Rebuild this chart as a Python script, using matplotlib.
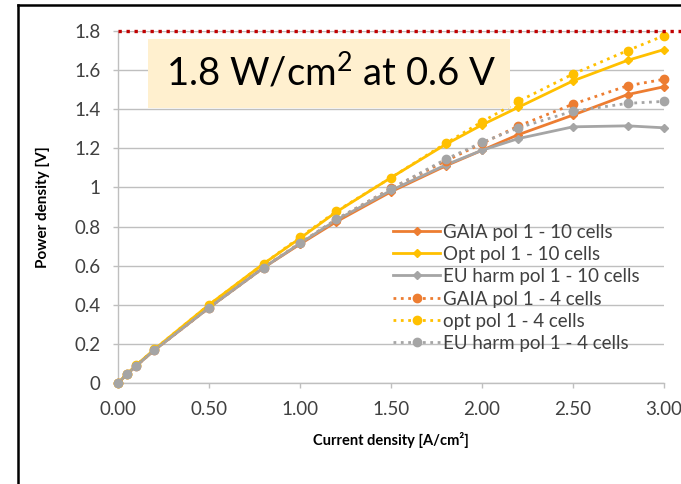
import numpy as np
import matplotlib
matplotlib.use("Agg")
import matplotlib.pyplot as plt
from matplotlib.lines import Line2D
from matplotlib.patches import Rectangle

plt.rcParams['font.family'] = ['Lato', 'DejaVu Sans']
plt.rcParams['mathtext.fontset'] = 'custom'
plt.rcParams['mathtext.rm'] = 'Lato'

# current density [A/cm2]
current = [0, 0.05, 0.1, 0.2, 0.5, 0.8, 1.0, 1.2, 1.5, 1.8, 2.0, 2.2, 2.5, 2.8, 3.0]

# power density per polarisation curve
gaia_10 = [0, 0.045, 0.088, 0.168, 0.385, 0.59, 0.71, 0.825, 0.978, 1.11, 1.19, 1.27, 1.37, 1.475, 1.515]
opt_10 = [0, 0.047, 0.091, 0.172, 0.40, 0.61, 0.74, 0.875, 1.05, 1.22, 1.32, 1.41, 1.545, 1.65, 1.705]
eu_10 = [0, 0.045, 0.088, 0.168, 0.385, 0.59, 0.714, 0.833, 0.985, 1.115, 1.19, 1.25, 1.31, 1.315, 1.305]
gaia_4 = [0, 0.045, 0.088, 0.168, 0.385, 0.59, 0.715, 0.835, 0.995, 1.135, 1.225, 1.314, 1.426, 1.52, 1.553]
opt_4 = [0, 0.047, 0.091, 0.172, 0.40, 0.61, 0.745, 0.878, 1.05, 1.225, 1.336, 1.44, 1.58, 1.70, 1.776]
eu_4 = [0, 0.045, 0.088, 0.168, 0.385, 0.59, 0.715, 0.838, 0.993, 1.144, 1.23, 1.305, 1.39, 1.43, 1.44]

labels = ['GAIA pol 1 - 10 cells', 'Opt pol 1 - 10 cells', 'EU harm pol 1 - 10 cells',
          'GAIA pol 1 - 4 cells', 'opt pol 1 - 4 cells', 'EU harm pol 1 - 4 cells']
target = 1.8
x_ticks = [0, 0.5, 1.0, 1.5, 2.0, 2.5, 3.0]
y_ticks = [0, 0.2, 0.4, 0.6, 0.8, 1.0, 1.2, 1.4, 1.6, 1.8]
y_ticklabels = ['0', '0.2', '0.4', '0.6', '0.8', '1', '1.2', '1.4', '1.6', '1.8']

ORANGE = '#ED7D31'
YELLOW = '#FFC000'
GREY = '#A5A5A5'
GRID = '#BFBFBF'
TXT = '#404040'

W, H = 681, 484
fig = plt.figure(figsize=(W / 100, H / 100), dpi=100)
ax = fig.add_axes([118 / W, 1 - 383 / H, (664 - 118) / W, (383 - 31) / H])

series = [
    (gaia_10, ORANGE, '-', 'D', 4.5),
    (opt_10, YELLOW, '-', 'D', 4.5),
    (eu_10, GREY, '-', 'D', 4.5),
    (gaia_4, ORANGE, ':', 'o', 6),
    (opt_4, YELLOW, ':', 'o', 6),
    (eu_4, GREY, ':', 'o', 6),
]
for (vals, col, ls, mk, ms), lab in zip(series, labels):
    ax.plot(current, vals, color=col, ls=ls, lw=2.0, marker=mk, ms=ms,
            label=lab, clip_on=False, zorder=3)

# target line at 1.8 W/cm2
ax.plot([0, 3.12], [target, target], color='#C00000', lw=2.4,
        dashes=(1, 1.4), clip_on=False, zorder=4)

ax.set_xlim(0, 3)
ax.set_ylim(0, 1.8)
ax.set_xticks(x_ticks)
ax.set_xticklabels([f'{v:.2f}' for v in x_ticks])
ax.set_yticks(y_ticks)
ax.set_yticklabels(y_ticklabels)
ax.yaxis.grid(True, color=GRID, lw=1.0)
ax.set_axisbelow(True)
for s in ['top', 'right']:
    ax.spines[s].set_visible(False)
for s in ['left', 'bottom']:
    ax.spines[s].set_color(GRID)
    ax.spines[s].set_linewidth(1.0)
ax.tick_params(axis='both', direction='out', length=3.8, width=1.0, color=GRID,
               labelsize=13.5, labelcolor=TXT)
ax.tick_params(axis='y', pad=9)
ax.tick_params(axis='x', pad=9)

ax.set_xlabel('Current density [A/cm²]', fontsize=10.5, fontweight='bold', labelpad=10)
ax.set_ylabel('Power density [V]', fontsize=11, fontweight='bold')
ax.yaxis.set_label_coords(50 / W, 1 - 207 / H, transform=fig.transFigure)

# legend, laid out by hand in pixel rows
leg_top, leg_step = 231, 22.2
for i, ((vals, col, ls, mk, ms), lab) in enumerate(zip(series, labels)):
    yy = 1 - (leg_top + i * leg_step) / H
    fig.add_artist(Line2D([393 / W, 440 / W], [yy, yy], color=col, ls=ls, lw=2.0))
    fig.add_artist(Line2D([416.5 / W], [yy], color=col, marker=mk, ms=ms, ls='none'))
    fig.text(443 / W, yy - 1.5 / H, lab, fontsize=13.5, color=TXT, ha='left', va='center')

# callout box
fig.add_artist(Rectangle((148 / W, 1 - 108 / H), (510 - 148) / W, (108 - 39) / H,
                         transform=fig.transFigure, facecolor='#FFF0CF',
                         edgecolor='none', zorder=5))
fig.text(331 / W, 1 - 73 / H, '1.8 W/cm$^{2}$ at 0.6 V', fontsize=27.5,
         ha='center', va='center', color='black', zorder=6)

# outer frame
fig.add_artist(Line2D([18 / W, 18 / W], [0, 1 - 5 / H], color='black', lw=1.8))
fig.add_artist(Line2D([18 / W, 1], [1 - 5 / H, 1 - 5 / H], color='black', lw=1.8))

fig.savefig('out.png', dpi=100)
